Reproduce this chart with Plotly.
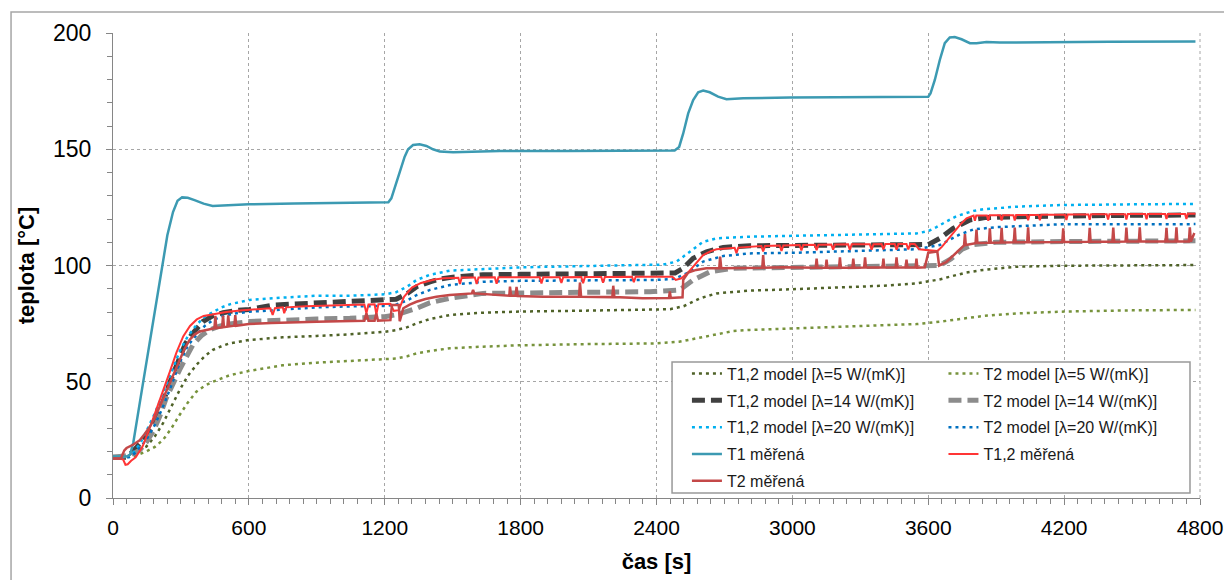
import plotly.graph_objects as go

# ---------------- data ----------------
# Model T1,2, lambda = 5 W/(mK)
t_m5_12 = [0, 60, 74, 110, 147, 185, 221, 258, 294, 330, 368, 405, 441, 480, 515, 603, 750, 899, 1046, 1200,
           1250, 1300, 1341, 1400, 1488, 1634, 1800, 2100, 2400, 2460, 2520, 2592, 2665, 2812, 3000, 3200,
           3400, 3548, 3650, 3700, 3769, 3843, 3990, 4200, 4500, 4780]
v_m5_12 = [17.5, 17.5, 18.5, 20.5, 22.1, 26.5, 32.2, 39.5, 46.4, 52.5, 57.2, 61.0, 63.7, 65.3, 66.5, 68.0, 69.1,
           69.7, 70.4, 71.5, 72.2, 73.5, 75.1, 77.0, 78.7, 79.7, 80.2, 80.6, 80.9, 81.2, 82.5, 85.9, 88.0, 89.2,
           89.8, 90.5, 91.3, 92.3, 94.0, 95.3, 97.0, 98.1, 99.5, 99.9, 100.1, 100.2]

# Model T2, lambda = 5 W/(mK)
t_m5_2 = [0, 88, 147, 185, 221, 258, 294, 330, 368, 405, 441, 515, 603, 750, 899, 1046, 1200, 1250, 1300, 1341,
          1400, 1488, 1634, 1800, 2100, 2400, 2500, 2580, 2640, 2739, 2812, 3018, 3300, 3548, 3650, 3750, 3843,
          3990, 4200, 4500, 4780]
v_m5_2 = [17.5, 17.8, 20.0, 22.0, 25.0, 30.0, 35.7, 41.0, 45.7, 48.3, 50.0, 52.8, 54.7, 57.1, 58.2, 58.9, 59.7,
          60.0, 61.0, 62.2, 63.2, 64.4, 65.1, 65.7, 66.2, 66.5, 67.2, 68.8, 70.1, 71.8, 72.3, 73.0, 73.8, 74.8,
          75.8, 77.0, 78.3, 79.4, 80.2, 80.7, 80.9]

# Model T1,2, lambda = 14 W/(mK)
t_m14_12 = [0, 60, 88, 118, 147, 185, 221, 258, 294, 320, 346, 397, 440, 486, 540, 603, 706, 899, 1046, 1200,
            1250, 1300, 1341, 1400, 1450, 1500, 1634, 1800, 2100, 2371, 2482, 2518, 2562, 2621, 2695, 2812, 3018,
            3300, 3600, 3651, 3710, 3784, 3850, 4000, 4181, 4500, 4780]
v_m14_12 = [17.5, 17.5, 20.0, 23.0, 26.4, 33.0, 41.4, 51.5, 60.8, 66.5, 70.1, 75.9, 78.3, 79.7, 80.6, 81.1, 83.0,
            83.8, 84.3, 84.8, 85.5, 88.0, 90.9, 93.0, 94.3, 95.0, 96.0, 96.2, 96.3, 96.3, 96.8, 98.8, 103.1, 105.9,
            107.8, 108.5, 108.7, 109.0, 109.0, 111.7, 116.0, 119.6, 120.6, 121.0, 121.4, 121.6, 121.7]

# Model T2, lambda = 14 W/(mK)
t_m14_2 = [0, 80, 118, 147, 177, 206, 235, 265, 294, 323, 353, 390, 427, 470, 515, 603, 750, 899, 1046, 1200,
           1250, 1300, 1341, 1400, 1488, 1634, 1800, 2100, 2371, 2503, 2562, 2636, 2739, 3018, 3300, 3600, 3650,
           3700, 3750, 3800, 3900, 4200, 4780]
v_m14_2 = [17.5, 18.5, 20.6, 24.0, 28.6, 35.0, 42.9, 49.5, 55.1, 60.5, 65.9, 69.8, 72.3, 73.9, 74.8, 75.9, 76.6,
           77.0, 77.3, 78.0, 78.8, 80.3, 81.6, 84.0, 85.9, 88.0, 88.3, 88.5, 88.7, 89.5, 93.8, 97.3, 98.8, 99.2,
           99.4, 99.5, 100.0, 102.8, 107.0, 109.0, 110.0, 110.3, 110.6]

# Model T1,2, lambda = 20 W/(mK)
t_m20_12 = [0, 60, 90, 120, 147, 185, 221, 258, 294, 330, 368, 405, 441, 480, 515, 603, 750, 899, 1046, 1200,
            1250, 1300, 1341, 1400, 1488, 1634, 1800, 2100, 2371, 2430, 2489, 2547, 2606, 2665, 2812, 3018, 3300,
            3548, 3600, 3636, 3700, 3725, 3800, 3843, 3990, 4181, 4500, 4780]
v_m20_12 = [17.5, 17.5, 19.5, 23.5, 28.6, 36.5, 45.0, 54.5, 63.0, 69.5, 74.4, 78.0, 80.1, 82.0, 83.3, 85.2, 86.2,
            87.0, 87.0, 87.6, 88.5, 91.0, 93.8, 96.0, 97.8, 98.5, 99.2, 99.8, 100.2, 100.4, 101.7, 105.9, 110.2,
            111.7, 112.4, 112.8, 113.3, 113.8, 114.8, 116.5, 120.0, 121.2, 123.5, 124.2, 125.3, 126.0, 126.3, 126.5]

# Model T2, lambda = 20 W/(mK)
t_m20_2 = [0, 70, 100, 147, 185, 221, 258, 294, 330, 368, 405, 441, 486, 540, 603, 750, 899, 1046, 1200, 1250,
           1300, 1341, 1400, 1488, 1634, 1800, 2100, 2400, 2480, 2533, 2606, 2695, 2812, 3018, 3300, 3548, 3651,
           3710, 3740, 3800, 3900, 4181, 4780]
v_m20_2 = [17.5, 17.5, 19.5, 25.0, 31.5, 39.3, 48.5, 58.0, 65.5, 70.1, 74.0, 76.5, 78.3, 79.4, 80.1, 81.0, 82.0,
           82.4, 82.6, 83.2, 85.0, 87.3, 89.5, 91.6, 93.0, 93.4, 93.7, 93.8, 94.3, 96.6, 101.7, 104.1, 105.2,
           105.5, 106.3, 107.0, 108.8, 112.0, 113.4, 115.5, 116.5, 117.7, 117.8]

# Measured T1
t_t1 = [0, 60, 75, 90, 120, 150, 180, 210, 240, 265, 285, 305, 330, 360, 400, 440, 480, 540, 600, 800, 1000,
        1216, 1229, 1251, 1273, 1288, 1303, 1325, 1354, 1384, 1413, 1443, 1502, 1708, 2000, 2300, 2480, 2500,
        2518, 2540, 2562, 2584, 2606, 2635, 2672, 2709, 2783, 2989, 3300, 3600, 3610, 3629, 3651, 3673, 3695,
        3717, 3747, 3784, 3813, 3857, 3916, 4093, 4400, 4780]
v_t1 = [17.8, 17.8, 18.5, 24.0, 42.0, 60.0, 78.0, 96.0, 113.0, 123.0, 127.8, 129.3, 129.1, 128.1, 126.6, 125.6,
        125.8, 126.2, 126.3, 126.7, 127.0, 127.2, 128.9, 135.3, 142.5, 146.8, 150.0, 151.8, 152.1, 151.4, 150.0,
        149.0, 148.7, 149.2, 149.3, 149.4, 149.5, 151.0, 156.8, 165.4, 171.2, 174.5, 175.2, 174.5, 172.6, 171.5,
        171.9, 172.3, 172.4, 172.6, 174.0, 179.8, 188.4, 195.6, 198.1, 198.3, 197.3, 195.6, 195.6, 196.1, 195.9,
        196.1, 196.2, 196.3]

# Measured T1,2
t_t12 = [0, 30, 45, 55, 65, 80, 100, 130, 160, 190, 220, 250, 280, 310, 340, 370, 400, 450, 500, 560, 600, 650,
         695, 705, 715, 750, 756, 765, 850, 950, 1050, 1110, 1119, 1128, 1155, 1163, 1172, 1225, 1240, 1262, 1285,
         1320, 1360, 1420, 1460, 1500, 1525, 1532, 1540, 1598, 1606, 1614, 1686, 1694, 1702, 1800, 1884, 1892,
         1900, 1972, 1980, 1988, 2068, 2076, 2084, 2156, 2164, 2172, 2292, 2300, 2308, 2470, 2485, 2510, 2540,
         2562, 2606, 2640, 2665, 2745, 2753, 2761, 2812, 2863, 2871, 2879, 2944, 2952, 2960, 3032, 3040, 3048,
         3099, 3107, 3115, 3172, 3180, 3188, 3246, 3254, 3262, 3342, 3350, 3358, 3394, 3402, 3410, 3452, 3460,
         3468, 3504, 3512, 3520, 3540, 3560, 3600, 3640, 3660, 3700, 3740, 3769, 3790, 3800, 3806, 3812, 3859,
         3865, 3871, 3918, 3924, 3930, 3976, 3982, 3988, 4035, 4041, 4047, 4087, 4093, 4099, 4204, 4210, 4216,
         4307, 4313, 4319, 4388, 4394, 4400, 4469, 4475, 4481, 4558, 4564, 4570, 4646, 4652, 4658, 4734, 4740,
         4746, 4780]
v_t12 = [17.0, 17.0, 16.5, 14.3, 14.5, 16.0, 17.5, 22.0, 29.5, 37.5, 45.5, 54.0, 62.5, 69.5, 74.0, 76.8, 78.3,
         79.3, 80.0, 80.6, 81.0, 81.3, 81.6, 78.7, 81.6, 82.0, 79.5, 82.0, 82.5, 82.8, 83.1, 83.2, 79.5, 83.2,
         83.3, 79.0, 83.3, 83.5, 80.5, 80.8, 86.5, 90.5, 92.5, 94.0, 94.5, 94.7, 94.7, 92.0, 94.8, 94.8, 92.0,
         94.8, 94.9, 92.2, 94.9, 95.0, 95.0, 92.3, 95.0, 95.0, 92.5, 95.0, 95.1, 92.4, 95.1, 95.1, 92.6, 95.1,
         95.2, 92.8, 95.2, 95.2, 93.8, 94.5, 97.0, 99.5, 104.5, 106.2, 107.0, 107.6, 105.3, 107.7, 108.0, 108.4,
         106.0, 108.4, 108.6, 106.3, 108.6, 108.8, 106.5, 108.8, 108.9, 106.6, 108.9, 109.0, 106.8, 109.0, 109.1,
         106.7, 109.1, 109.1, 106.8, 109.1, 109.2, 106.9, 109.2, 109.2, 106.8, 109.2, 109.2, 106.9, 109.2, 109.2,
         107.0, 106.5, 106.2, 108.0, 113.0, 117.5, 120.3, 121.3, 121.5, 119.3, 121.5, 121.5, 119.3, 121.6, 121.6,
         119.4, 121.6, 121.6, 119.4, 121.7, 121.7, 119.5, 121.7, 121.7, 119.5, 121.8, 121.8, 119.6, 121.9, 121.9,
         119.7, 122.0, 122.0, 119.8, 122.0, 122.0, 119.8, 122.1, 122.1, 119.9, 122.2, 122.2, 120.0, 122.2, 122.2,
         120.0, 122.3, 122.3]

# Measured T2
t_t2 = [0, 35, 50, 60, 90, 118, 140, 162, 185, 206, 230, 250, 270, 294, 315, 338, 360, 383, 410, 441, 448, 452,
        456, 482, 486, 490, 505, 509, 513, 536, 540, 544, 600, 700, 800, 900, 1000, 1110, 1119, 1128, 1155, 1163,
        1170, 1225, 1232, 1262, 1266, 1282, 1310, 1340, 1380, 1428, 1487, 1585, 1590, 1595, 1750, 1753, 1758,
        1778, 1782, 1787, 1900, 2058, 2062, 2067, 2205, 2209, 2214, 2339, 2455, 2459, 2463, 2500, 2515, 2518,
        2540, 2575, 2620, 2677, 2681, 2686, 2867, 2871, 2875, 2959, 3103, 3107, 3111, 3147, 3151, 3155, 3206,
        3210, 3214, 3265, 3269, 3273, 3317, 3321, 3325, 3398, 3402, 3406, 3456, 3460, 3464, 3500, 3504, 3508,
        3544, 3548, 3552, 3585, 3600, 3640, 3648, 3680, 3720, 3758, 3762, 3766, 3809, 3813, 3817, 3868, 3872,
        3876, 3920, 3924, 3928, 3978, 3982, 3986, 4037, 4041, 4045, 4192, 4196, 4200, 4309, 4313, 4317, 4413,
        4417, 4421, 4471, 4475, 4479, 4530, 4534, 4538, 4648, 4652, 4656, 4692, 4696, 4700, 4751, 4755, 4760,
        4775]
v_t2 = [17.0, 17.0, 20.5, 21.5, 23.0, 24.8, 27.5, 30.5, 34.5, 39.3, 44.5, 49.3, 53.5, 59.4, 64.0, 68.0, 70.3,
        71.6, 72.3, 73.0, 73.0, 78.3, 73.1, 73.4, 78.5, 73.5, 73.7, 78.6, 73.8, 74.1, 78.7, 74.1, 74.8, 75.3,
        75.7, 75.8, 76.0, 76.2, 79.4, 76.2, 76.2, 79.4, 76.3, 76.5, 83.0, 83.0, 76.0, 81.6, 83.2, 84.4, 85.6,
        86.6, 87.3, 88.0, 89.5, 88.0, 87.0, 90.9, 87.0, 87.0, 90.8, 86.9, 86.6, 86.6, 92.7, 86.6, 86.4, 91.3,
        86.4, 85.9, 86.0, 88.9, 86.0, 86.2, 86.3, 93.8, 97.0, 98.1, 98.8, 98.8, 103.8, 98.8, 99.0, 104.5, 99.0,
        99.2, 99.0, 103.0, 99.0, 99.0, 102.5, 99.0, 99.0, 103.5, 99.0, 99.0, 103.0, 99.0, 99.1, 103.5, 99.1,
        99.1, 103.0, 99.1, 99.1, 103.5, 99.1, 99.1, 102.5, 99.1, 99.1, 103.0, 99.1, 99.2, 105.5, 106.0, 100.0,
        101.5, 105.0, 108.6, 113.5, 108.8, 109.6, 115.5, 109.7, 109.8, 116.0, 109.8, 109.9, 116.2, 109.9, 110.0,
        116.3, 110.0, 110.0, 116.4, 110.0, 110.1, 116.0, 110.1, 110.2, 116.2, 110.2, 110.2, 116.3, 110.2, 110.3,
        116.3, 110.3, 110.3, 116.4, 110.3, 110.3, 116.2, 110.3, 110.3, 116.4, 110.3, 110.3, 116.4, 110.3, 114.0]

x_ticks = [0, 600, 1200, 1800, 2400, 3000, 3600, 4200, 4800]
y_ticks = [0, 50, 100, 150, 200]

# ---------------- figure ----------------
fig = go.Figure()

DOT = "3px,4px"
DASH = "13px,6px"

series = [
    ("T1,2 model [λ=5 W/(mK)]", t_m5_12, v_m5_12, "#4F6228", 2.5, DOT, "legend"),
    ("T2 model [λ=5 W/(mK)]", t_m5_2, v_m5_2, "#77933C", 2.5, DOT, "legend2"),
    ("T1,2 model [λ=14 W/(mK)]", t_m14_12, v_m14_12, "#404040", 5, DASH, "legend"),
    ("T2 model [λ=14 W/(mK)]", t_m14_2, v_m14_2, "#8C8C8C", 5, DASH, "legend2"),
    ("T1,2 model [λ=20 W/(mK)]", t_m20_12, v_m20_12, "#00B0F0", 2.5, DOT, "legend"),
    ("T2 model [λ=20 W/(mK)]", t_m20_2, v_m20_2, "#0070C0", 2.5, DOT, "legend2"),
    ("T1 měřená", t_t1, v_t1, "#3C9AB2", 2.5, "solid", "legend"),
    ("T1,2 měřená", t_t12, v_t12, "#FF3535", 2, "solid", "legend2"),
    ("T2 měřená", t_t2, v_t2, "#C44848", 2.5, "solid", "legend"),
]
for i, (name, t, v, color, width, dash, leg) in enumerate(series):
    fig.add_trace(go.Scatter(
        x=t, y=v, mode="lines", name=name,
        line=dict(color=color, width=width, dash=dash),
        legend=leg, legendgroup="g%d" % i,
    ))

axis_col = "#868686"
grid_col = "#A6A6A6"
FONT = "Liberation Sans, Arial, sans-serif"

fig.update_layout(
    width=1224, height=580,
    margin=dict(l=113, r=24, t=33, b=82, autoexpand=False),
    paper_bgcolor="white", plot_bgcolor="white",
    font=dict(family=FONT, color="#000000"),
    showlegend=True,
    legend=dict(x=0.528, y=0.304, xanchor="left", yanchor="top",
                bgcolor="rgba(0,0,0,0)", borderwidth=0, tracegroupgap=3,
                font=dict(size=16, family=FONT, color="#1a1a1a")),
    legend2=dict(x=0.764, y=0.304, xanchor="left", yanchor="top",
                 bgcolor="rgba(0,0,0,0)", borderwidth=0, tracegroupgap=3,
                 font=dict(size=16, family=FONT, color="#1a1a1a")),
    xaxis=dict(
        range=[0, 4800], tickmode="array", tickvals=x_ticks,
        ticktext=[str(v) for v in x_ticks],
        ticks="outside", ticklen=6, tickcolor=axis_col, tickwidth=1,
        showline=True, linecolor=axis_col, linewidth=1,
        showgrid=True, gridcolor=grid_col, griddash="dot", gridwidth=1,
        zeroline=False, tickfont=dict(size=21), automargin=False,
        ticklabeloverflow="allow",
        ticklabelstandoff=5,
        minor=dict(dtick=60, tick0=0, ticks="outside", ticklen=5, tickcolor=axis_col, showgrid=False),
        title=dict(text="<b>čas [s]</b>", font=dict(size=22), standoff=15),
    ),
    yaxis=dict(
        range=[0, 200], tickmode="array", tickvals=y_ticks,
        ticktext=[str(v) for v in y_ticks],
        ticks="outside", ticklen=6, tickcolor=axis_col, tickwidth=1,
        showline=True, linecolor=axis_col, linewidth=1,
        showgrid=True, gridcolor=grid_col, griddash="dot", gridwidth=1,
        zeroline=False, tickfont=dict(size=23), automargin=False,
        ticklabeloverflow="allow",
        ticklabelstandoff=10,
        minor=dict(dtick=10, tick0=0, ticks="outside", ticklen=5, tickcolor=axis_col, showgrid=False),
        title=dict(text="<b>teplota [°C]</b>", font=dict(size=22), standoff=12),
    ),
    shapes=[
        # outer chart frame
        dict(type="rect", xref="paper", yref="paper", x0=-0.0938, x1=1.04, y0=-0.25, y1=1.0452,
             line=dict(color="#A6A6A6", width=1.5), fillcolor="rgba(0,0,0,0)", layer="below"),
        # dotted gridline at the right edge of the plot area
        dict(type="line", xref="paper", yref="paper", x0=1, x1=1, y0=0, y1=1,
             line=dict(color=grid_col, width=1, dash="dot"), layer="below"),
        # legend box
        dict(type="rect", xref="paper", yref="paper", x0=0.5143, x1=0.9908, y0=0.0108, y1=0.2925,
             line=dict(color="#999999", width=1.5), fillcolor="white", layer="above"),
    ],
)

fig.write_html("out.html")
